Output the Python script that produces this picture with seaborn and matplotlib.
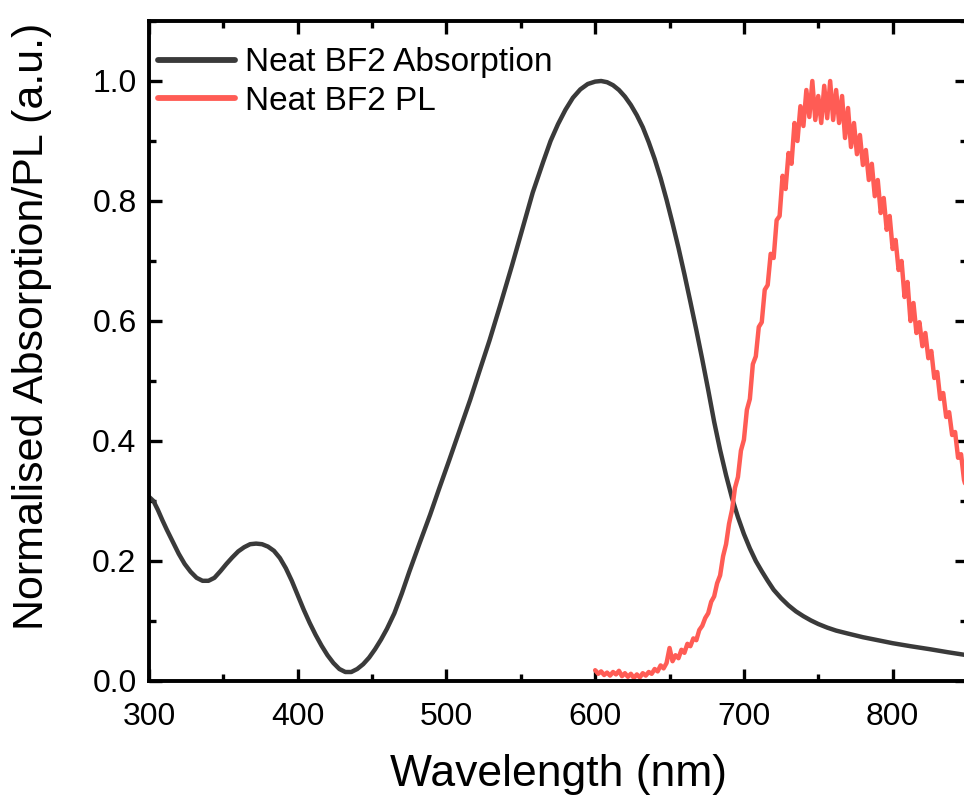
import numpy as np
import pandas as pd
import seaborn as sns
import matplotlib.pyplot as plt
from matplotlib.ticker import MultipleLocator

# absorption spectrum (nm, normalised)
abs_wl = [300, 303, 306, 309, 312, 316, 320, 324, 328, 332, 336, 340, 344, 348,
          352, 356, 360, 364, 368, 372, 376, 380, 384, 388, 392, 396, 400, 404,
          408, 412, 416, 420, 424, 428, 432, 436, 440, 444, 448, 452, 456, 460,
          465, 470, 475, 482, 489, 495, 502, 509, 516, 522, 529, 536, 544, 551,
          558, 565, 570, 575, 580, 585, 590, 595, 600, 604, 608, 612, 616, 620,
          624, 628, 632, 636, 640, 644, 648, 652, 656, 660, 664, 668, 672, 676,
          680, 684, 688, 692, 696, 700, 704, 708, 712, 716, 720, 725, 730, 735,
          740, 745, 750, 756, 762, 770, 780, 790, 800, 812, 825, 837, 850]
abs_val = [0.307, 0.300, 0.285, 0.268, 0.252, 0.232, 0.212, 0.195, 0.182, 0.172,
           0.167, 0.167, 0.172, 0.183, 0.195, 0.206, 0.216, 0.223, 0.228, 0.229,
           0.228, 0.224, 0.217, 0.205, 0.188, 0.167, 0.143, 0.119, 0.097, 0.077,
           0.059, 0.043, 0.030, 0.020, 0.015, 0.015, 0.020, 0.028, 0.039, 0.053,
           0.069, 0.087, 0.113, 0.146, 0.182, 0.230, 0.277, 0.320, 0.369, 0.419,
           0.469, 0.515, 0.568, 0.625, 0.692, 0.753, 0.814, 0.865, 0.900, 0.928,
           0.952, 0.972, 0.986, 0.995, 0.999, 1.000, 0.998, 0.993, 0.985, 0.974,
           0.960, 0.943, 0.923, 0.898, 0.870, 0.838, 0.802, 0.763, 0.722, 0.678,
           0.632, 0.585, 0.536, 0.485, 0.432, 0.385, 0.343, 0.305, 0.273, 0.245,
           0.221, 0.200, 0.183, 0.167, 0.152, 0.138, 0.126, 0.116, 0.108, 0.101,
           0.095, 0.089, 0.084, 0.079, 0.073, 0.068, 0.063, 0.058, 0.053, 0.048,
           0.043]

# PL spectrum (600-850 nm, 2 nm steps), noisy trace
pl_wl = list(range(600, 851, 2))
pl_val = [0.018, 0.012, 0.016, 0.010, 0.014, 0.009, 0.015, 0.011, 0.017, 0.008,
          0.013, 0.007, 0.012, 0.005, 0.011, 0.006, 0.013, 0.009, 0.015, 0.012,
          0.020, 0.016, 0.026, 0.021, 0.030, 0.055, 0.033, 0.043, 0.038, 0.052,
          0.047, 0.062, 0.058, 0.071, 0.068, 0.085, 0.092, 0.105, 0.113, 0.132,
          0.141, 0.163, 0.176, 0.208, 0.228, 0.262, 0.285, 0.322, 0.340, 0.384,
          0.402, 0.452, 0.470, 0.528, 0.541, 0.590, 0.598, 0.652, 0.660, 0.712,
          0.705, 0.768, 0.775, 0.842, 0.820, 0.880, 0.862, 0.930, 0.900, 0.958,
          0.925, 0.985, 0.940, 1.000, 0.935, 0.975, 0.930, 0.992, 0.938, 1.000,
          0.935, 0.985, 0.930, 0.975, 0.905, 0.955, 0.890, 0.930, 0.878, 0.910,
          0.860, 0.885, 0.835, 0.862, 0.808, 0.835, 0.780, 0.805, 0.752, 0.775,
          0.720, 0.735, 0.685, 0.700, 0.640, 0.665, 0.600, 0.630, 0.580, 0.598,
          0.558, 0.580, 0.538, 0.550, 0.505, 0.515, 0.470, 0.480, 0.440, 0.448,
          0.410, 0.415, 0.372, 0.378, 0.335, 0.318]

labels = ['Neat BF2 Absorption', 'Neat BF2 PL']
colors = ['#3a3a3a', '#ff5c55']

df = pd.concat([
    pd.DataFrame({'wl': abs_wl, 'val': abs_val, 'series': labels[0]}),
    pd.DataFrame({'wl': pl_wl, 'val': pl_val, 'series': labels[1]}),
])

sns.set_theme(style='ticks')
plt.rcParams['font.family'] = ['Liberation Sans', 'DejaVu Sans']
plt.rcParams['text.color'] = 'black'
plt.rcParams['axes.labelcolor'] = 'black'

fig = plt.figure(figsize=(9.64, 7.97), dpi=100)
ax = fig.add_axes([149 / 964, 116 / 797, 818 / 964, 660 / 797])

sns.lineplot(data=df, x='wl', y='val', hue='series', palette=colors,
             linewidth=3.2, sort=False, estimator=None, ax=ax)

ax.set_xlim(300, 850)
ax.set_ylim(0, 1.1)
ax.xaxis.set_major_locator(MultipleLocator(100))
ax.xaxis.set_minor_locator(MultipleLocator(50))
ax.yaxis.set_major_locator(MultipleLocator(0.2))
ax.yaxis.set_minor_locator(MultipleLocator(0.1))
ax.yaxis.set_major_formatter(plt.FormatStrFormatter('%.1f'))

for s in ax.spines.values():
    s.set_linewidth(2.8)
    s.set_visible(True)
    s.set_color('black')
ax.tick_params(which='both', direction='in', top=True, right=True,
               width=2.4, labelsize=23, colors='black')
ax.tick_params(axis='x', pad=15)
ax.tick_params(axis='y', pad=9)
ax.tick_params(which='major', length=9)
ax.tick_params(which='minor', length=5)

ax.set_xlabel('Wavelength (nm)', fontsize=32, labelpad=16)
ax.set_ylabel('Normalised Absorption/PL (a.u.)', fontsize=31)
ax.yaxis.set_label_coords(-0.1186, 0.537)

leg = ax.legend(loc='upper left', frameon=False, fontsize=24,
                handlelength=2.3, handletextpad=0.3, labelspacing=0.22,
                borderpad=0, borderaxespad=0,
                bbox_to_anchor=(9 / 818, 0.96))
for h in leg.get_lines():
    h.set_linewidth(4.2)

fig.savefig('out.png', dpi=100)
